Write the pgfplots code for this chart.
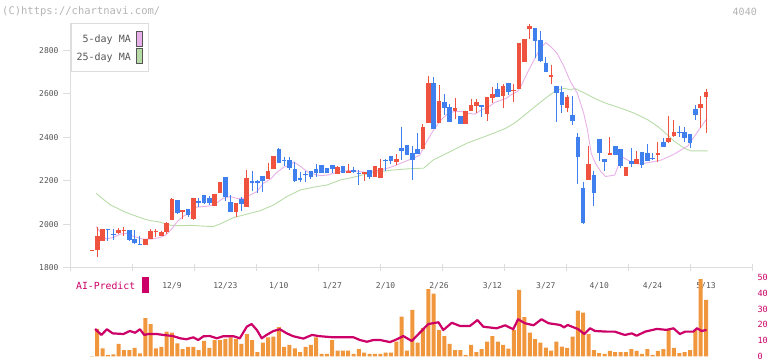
\documentclass[border=0pt]{standalone}
\usepackage{fontspec}
\usepackage{pgfplots}
\usepackage{pgfplotstable}
\pgfplotsset{compat=1.18}
\newfontfamily\mono{DejaVu Sans Mono}
\definecolor{upc}{HTML}{EF5340}
\definecolor{dnc}{HTML}{4080EE}
\definecolor{ma5}{HTML}{E8B0E8}
\definecolor{ma25}{HTML}{B8DCA8}
\definecolor{vol}{HTML}{F0963C}
\definecolor{ai}{HTML}{CC0066}
\definecolor{txt}{HTML}{555555}
\definecolor{axc}{HTML}{DDDDDD}
\definecolor{lite}{HTML}{B4B4B4}

\pgfplotstableread{
x o h l c
0 1876 1881 1876 1881
1 1881 1989 1851 1946
2 1924 1977 1924 1977
5 1958 1983 1953 1973
6 1967 1986 1946 1972
10 1906 1933 1906 1933
11 1933 1979 1933 1969
12 1965 1979 1943 1970
13 1947 1969 1947 1964
14 1964 2012 1955 2004
15 2019 2119 2019 2115
17 2056 2065 2025 2065
19 2023 2121 2020 2119
23 2084 2139 2084 2139
24 2145 2193 2145 2193
27 2058 2096 2035 2096
29 2081 2249 2081 2211
33 2207 2282 2207 2245
34 2254 2314 2254 2314
46 2231 2268 2231 2262
48 2237 2277 2237 2246
51 2231 2242 2200 2240
53 2219 2268 2219 2268
54 2214 2300 2214 2257
57 2288 2323 2272 2299
62 2346 2461 2346 2449
63 2467 2682 2467 2651
65 2467 2640 2467 2568
68 2522 2581 2484 2533
70 2462 2522 2462 2522
71 2522 2576 2522 2548
72 2543 2576 2511 2562
74 2508 2585 2475 2585
75 2581 2631 2558 2599
77 2590 2645 2535 2637
79 2612 2645 2563 2617
80 2622 2835 2622 2835
81 2746 2852 2746 2852
82 2897 2920 2853 2913
86 2676 2732 2645 2686
89 2536 2594 2516 2587
93 2203 2360 2203 2277
97 2317 2400 2317 2329
100 2222 2262 2222 2262
102 2277 2337 2277 2300
106 2320 2378 2288 2328
108 2378 2498 2374 2397
109 2406 2479 2400 2424
114 2536 2590 2442 2553
115 2587 2622 2421 2607
}\up

\pgfplotstableread{
x o h l c
3 1977 1977 1924 1972
4 1956 1977 1927 1951
7 1973 1973 1924 1927
8 1932 1973 1909 1915
9 1908 1946 1903 1903
16 2111 2111 2047 2053
18 2071 2071 2032 2044
20 2108 2119 2078 2096
21 2134 2134 2093 2096
22 2119 2130 2088 2099
25 2217 2217 2108 2127
26 2102 2134 2058 2058
28 2116 2127 2062 2093
30 2198 2245 2153 2188
31 2200 2203 2145 2191
32 2222 2222 2148 2200
35 2346 2351 2283 2283
36 2296 2309 2268 2291
37 2295 2309 2251 2260
38 2254 2286 2196 2200
39 2213 2239 2196 2203
40 2231 2246 2196 2225
41 2245 2245 2207 2219
42 2252 2277 2219 2237
43 2272 2272 2237 2237
44 2260 2260 2234 2234
45 2272 2272 2234 2254
47 2268 2268 2237 2237
49 2247 2265 2234 2241
50 2236 2249 2180 2231
52 2249 2249 2208 2219
55 2297 2300 2246 2292
56 2314 2314 2278 2292
58 2349 2449 2295 2338
59 2363 2363 2320 2320
60 2326 2360 2203 2295
61 2346 2418 2322 2322
64 2651 2677 2437 2437
66 2564 2599 2502 2533
67 2538 2553 2469 2469
69 2498 2498 2462 2462
73 2548 2548 2493 2541
76 2622 2650 2584 2584
78 2651 2651 2594 2610
83 2903 2903 2766 2844
84 2847 2889 2746 2751
85 2743 2769 2702 2702
87 2636 2636 2470 2605
88 2610 2636 2512 2548
90 2502 2590 2458 2476
91 2403 2420 2186 2311
92 2168 2194 2001 2007
94 2226 2245 2084 2145
95 2392 2392 2291 2329
96 2300 2300 2246 2288
98 2360 2360 2320 2320
99 2345 2345 2259 2268
101 2292 2351 2263 2277
103 2332 2332 2259 2272
104 2328 2369 2291 2291
105 2303 2329 2295 2298
107 2378 2397 2357 2357
110 2426 2452 2400 2421
111 2426 2447 2380 2395
112 2415 2415 2351 2372
113 2530 2548 2479 2502
}\dn

\pgfplotstableread{
x v
0 0.3
1 17.4
2 5.2
3 1
4 1.4
5 7.9
6 4.1
7 4.1
8 5.4
9 2
10 24.3
11 20.5
12 5.2
13 6
14 15.7
15 15
16 8.3
17 4.7
18 6
19 6
20 4.1
21 9.8
22 5.4
23 10.4
24 10.4
25 11.2
26 12.1
27 11
28 7.9
29 14.2
30 10.4
31 2.8
32 8.7
33 12.1
34 12.5
35 18.6
36 6
37 7.3
38 5.2
39 2.8
40 6
41 7.3
42 12.1
43 1.6
44 1.6
45 10.4
46 3.7
47 3.7
48 3.7
49 1.6
50 4.7
51 2.4
52 1.6
53 1.6
54 1.6
55 2.4
56 2.4
57 9.4
58 25.1
59 3.7
60 29.4
61 8.7
62 18
63 42.6
64 39.7
65 16.7
66 12.9
67 7.9
68 4.1
69 4.1
70 1
71 7.3
72 2.8
73 4.7
74 9.4
75 12.9
76 9.4
77 7.3
78 5
79 16.7
80 42
81 24.9
82 15
83 11
84 8.7
85 5.6
86 3.7
87 9.4
88 6.2
89 5.4
90 12.5
91 28.9
92 27.7
93 14.2
94 4.1
95 2.2
96 1.6
97 3.5
98 2.8
99 2.8
100 2.8
101 4.7
102 3.5
103 1.6
104 4.7
105 1
106 3.5
107 4.7
108 16.7
109 5.4
110 2.2
111 2.8
112 4.1
113 16.7
114 48.9
115 35.7
}\vol

\pgfplotsset{candle/.style n args={2}{draw=none, mark=none, forget plot,
  error bars/.cd, y dir=minus, y explicit, error mark=none,
  error bar style={line width=#1, draw=#2}}}

\begin{document}
\begin{tikzpicture}[x=1pt,y=1pt]
\useasboundingbox (0,0) rectangle (772,361);
\begin{axis}[
  at={(70pt,93.3pt)}, anchor=south west, scale only axis,
  width=682pt, height=244.7pt,
  xmin=-4.10, xmax=123.61, ymin=1800, ymax=2925,
  axis x line=bottom, axis y line=left,
  axis line style={draw=axc, line width=1pt, -},
  tick style={draw=axc, line width=1pt},
  major tick length=7pt,
  xtick align=center, ytick align=outside,
  xtick={-4.10,7.51,19.12,30.73,42.34,53.95,65.56,77.17,88.78,100.39,112.00,123.61},
  xticklabels={},
  extra x ticks={15,25,35,45,55,65,75,85,95,105,115},
  extra x tick labels={12/9,12/23,1/10,1/27,2/10,2/26,3/12,3/27,4/10,4/24,5/13},
  extra x tick style={major tick length=0pt, tick style={draw=none},
     xticklabel style={yshift=-11pt}},
  ytick={1800,2000,...,2800},
  /pgf/number format/assume math mode=true,
  /pgf/number format/1000 sep={},
  ticklabel style={font=\mono\fontsize{8}{9}\selectfont, text=txt},
  yticklabel style={xshift=-1pt},
]
\addplot[ma25, line width=0.9pt] coordinates {
(0.8,2142) (2.3,2111) (3.5,2088) (4.8,2073) (6,2058) (7.3,2046) (8.5,2035) (9.8,2024) (11,2016) (12.3,2012) (13.5,2004) (14.8,1995) (16.7,1993) (18.5,1995) (20.2,1992) (22.7,1989) (24,2001) (26.5,2030) (29,2046) (31.5,2062) (34,2088) (36.5,2127) (39,2157) (41.5,2170) (44,2180) (46.5,2203) (49,2216) (51.5,2231) (54,2242) (56.4,2249) (58.9,2254) (61.4,2257) (62.1,2257) (63.9,2295) (65.8,2318) (67.7,2341) (70.2,2372) (72.7,2395) (75.2,2418) (77.5,2441) (79.1,2464) (80.3,2487) (82.2,2525) (84.1,2563) (86,2599) (87.2,2617) (88.5,2625) (89.7,2617) (90.4,2625) (92.3,2602) (94.8,2571) (96.6,2553) (99.1,2533) (101.6,2510) (104.1,2480) (106,2449) (107.8,2410) (109.1,2380) (111,2349) (112.2,2337) (115.3,2337)};
\addplot[ma5, line width=0.9pt] coordinates {
(0.8,1989) (2.6,1932) (3.8,1938) (5.4,1955) (6.7,1958) (7.9,1943) (9.4,1932) (11,1931) (12.6,1938) (13.8,1950) (14.9,1977) (16,2012) (17.2,2038) (18.5,2052) (19.6,2078) (20.9,2081) (22.1,2084) (23.4,2099) (24.6,2119) (25.9,2127) (27.1,2119) (28.4,2119) (29.6,2134) (30.9,2150) (32.1,2188) (33.4,2207) (34.6,2237) (35.9,2262) (37.1,2272) (37.8,2286) (39.1,2265) (40.3,2242) (41.6,2230) (42.8,2223) (44.1,2226) (45.3,2234) (46.6,2242) (47.8,2246) (49.1,2246) (50.3,2242) (51.6,2237) (52.8,2245) (54.1,2249) (55.3,2257) (56.6,2268) (57.8,2280) (59,2292) (60.2,2303) (61.4,2318) (62.7,2380) (63.9,2430) (65.4,2480) (66.7,2510) (67.9,2518) (69.2,2518) (70.4,2510) (71.7,2506) (72.9,2525) (74.2,2538) (75.4,2559) (76.7,2571) (77.6,2579) (78.4,2594) (79.7,2610) (80.3,2633) (81.5,2694) (82.8,2755) (84,2809) (85,2835) (85.9,2817) (87.1,2786) (88.4,2725) (89.6,2656) (90.9,2602) (92.1,2510) (92.8,2433) (93.5,2326) (94.3,2280) (95.3,2242) (96.2,2219) (97.9,2226) (98.5,2265) (99.4,2308) (100.3,2295) (101.6,2280) (102.8,2276) (104.1,2283) (105.3,2288) (106.6,2295) (107.8,2308) (109.1,2323) (110.3,2341) (111.6,2360) (112.8,2403) (114.1,2449) (115.2,2487)};
% wicks
\addplot[candle={1pt}{upc}]
  table[x=x, y=h, y error minus expr=\thisrow{h}-\thisrow{l}] {\up};
\addplot[candle={1pt}{dnc}]
  table[x=x, y=h, y error minus expr=\thisrow{h}-\thisrow{l}] {\dn};
% bodies
\addplot[candle={4.6pt}{upc}]
  table[x=x, y=c, y error minus expr=\thisrow{c}-\thisrow{o}] {\up};
\addplot[candle={4.6pt}{dnc}]
  table[x=x, y=o, y error minus expr=\thisrow{o}-\thisrow{c}] {\dn};
\end{axis}

\begin{axis}[
  at={(70pt,4.5pt)}, anchor=south west, scale only axis,
  width=682pt, height=79.2pt,
  xmin=-4.10, xmax=123.61, ymin=0, ymax=50,
  axis x line=none, axis y line*=right,
  axis line style={draw=none},
  major tick length=0pt, tick style={draw=none},
  ytick={0,10,...,50},
  /pgf/number format/assume math mode=true,
  yticklabel style={font=\mono\fontsize{8.5}{9}\selectfont, text=ai, anchor=west, xshift=2pt},
]
\addplot[ybar, bar width=4pt, fill=vol, draw=none] table[x=x, y=v] {\vol};
\addplot[ai, line width=2.2pt, line join=round] coordinates {
(0.6,17.4) (1.8,13.6) (2.8,17.2) (3.9,14.6) (5.9,14.2) (7.1,16.1) (8.1,15) (9,17.2) (9.8,13.6) (10.6,14.2) (12.1,14.2) (13.4,13.6) (15.2,12.9) (16.5,11.5) (17.7,10.9) (19,12.1) (19.9,10.4) (20.9,12.8) (22.1,12.9) (23.4,11.5) (24.6,12.8) (26.5,12.8) (27.7,11.5) (29,18.8) (29.9,20.5) (30.9,16.7) (31.8,11.5) (32.7,13.6) (34,16.1) (35.2,17.2) (36.5,14.6) (37.7,12.8) (39.6,11.3) (41.2,13.6) (42.7,12.8) (45.2,12.1) (49,12.1) (50.2,10.4) (51.5,9.3) (52.7,10.4) (54,10.4) (55.8,9.1) (56.8,10.4) (58.3,12.9) (59.9,9.8) (61.4,15) (63,20.5) (64.9,21.6) (65.8,16.7) (67.4,21.3) (68.9,19.3) (70.8,19.3) (72.2,23) (73.3,18.8) (75.8,17.8) (77.4,19.7) (78.9,17.2) (79.8,23.5) (81.1,21) (82.7,19.7) (84.2,23.5) (85.5,21) (87.7,19.9) (88.4,18.4) (89.1,19.9) (91.1,17.2) (92.2,14.2) (93.3,17.8) (94.2,16.1) (96.4,15.7) (97.9,15.7) (99.8,13.6) (101.1,14.6) (102,13.1) (103.6,15.7) (105.8,17.4) (107.6,16.8) (108.9,17.8) (110.1,14.2) (111.1,15.7) (112.6,15.7) (113.3,17.8) (114.2,16.1) (115.1,16.8)};
\end{axis}

% legend box
\draw[axc, fill=white, line width=1pt] (71,337) rectangle (148,289);
\node[anchor=east, inner sep=0pt, text=txt, font=\mono\fontsize{10}{10}\selectfont] at (131,320.8) {5-day MA};
\node[anchor=east, inner sep=0pt, text=txt, font=\mono\fontsize{10}{10}\selectfont] at (131,303.7) {25-day MA};
\draw[txt, fill=ma5, line width=0.8pt] (136.5,329.5) rectangle (142.5,314.8);
\draw[txt, fill=ma25, line width=0.8pt] (136.5,312.3) rectangle (142.5,297.7);
% AI predict label
\node[anchor=west, inner sep=0pt, text=ai, font=\mono\fontsize{9.8}{10}\selectfont] at (76,75) {AI-Predict};
\fill[ai] (142.3,83.7) rectangle (148.7,68.3);
% header texts
\node[anchor=west, inner sep=0pt, text=lite, font=\mono\fontsize{10.5}{10}\selectfont] at (2,349) {(C)https://chartnavi.com/};
\node[anchor=east, inner sep=0pt, text=lite, font=\mono\fontsize{10}{10}\selectfont] at (757,349) {4040};
\end{tikzpicture}
\end{document}
